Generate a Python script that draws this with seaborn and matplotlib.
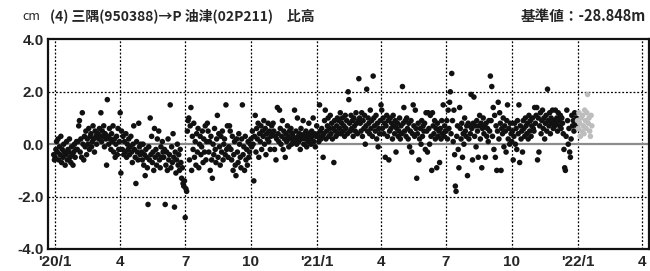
import matplotlib
matplotlib.use("Agg")
import matplotlib.pyplot as plt
import numpy as np
import pandas as pd
import seaborn as sns

# daily baseline height change (cm), one list per month
dec_2019 = [-0.4, -0.6]
jan_2020 = [-0.5, -0.2, 0.1, -0.3, 0.2, -0.6, -0.1, -0.4, 0.3, -0.7, -0.2, -0.5, 0.0, -0.3, -0.8, -0.4,
            0.1, -0.6, -0.2, -0.3, 0.2, -0.5, -0.7, -0.1, -0.4, -0.8, -0.3, 0.0, -0.5, -0.2, 0.1]
feb_2020 = [-0.2, 0.1, 0.7, 0.9, -0.3, 0.2, -0.5, 1.2, 0.0, -0.6, 0.3, -0.1, 0.5, -0.4, 0.2, 0.0,
            0.6, -0.2, 0.3, 0.4, -0.1, 0.1, 0.7, 0.2, -0.3, 0.5, 0.3, 0.0, 0.4]
mar_2020 = [0.4, 0.2, 0.6, 0.3, 1.2, 0.1, 0.5, 0.3, 0.7, -0.1, 0.4, 0.2, -0.8, 1.7, 0.3, 0.0,
            0.6, 0.2, -0.2, 0.4, 0.1, 0.7, -0.3, 0.2, -0.5, 0.0, 0.3, -0.4, 0.6, -0.2, 0.1]
apr_2020 = [1.2, -1.1, 0.5, -0.2, 0.3, -0.4, 0.1, -0.3, 0.4, -0.5, 0.0, -0.2, 0.2, -0.4, -0.1,
            0.3, -0.3, -0.7, 0.0, 0.7, -0.2, -0.5, -1.5, 0.1, -0.3, -0.6, 0.8, -0.1, -0.4, 0.0]
may_2020 = [-0.3, -0.6, 0.0, -0.8, -0.4, -1.2, -0.2, -0.5, -0.9, -2.3, -0.1, -0.6, 1.0, -0.4, 0.3,
            -0.7, -0.3, -1.0, 0.6, -0.5, -0.2, -0.8, 0.2, -0.4, 0.5, -0.6, -0.9, -0.1, -0.5, 0.1, -0.3]
jun_2020 = [-0.5, -0.2, -2.3, -0.8, -0.3, -1.0, 0.2, -0.6, -0.4, 1.5, -0.9, -0.1, -0.7, 0.4, -0.5,
            -2.4, -0.3, -1.1, -0.6, 0.0, -0.8, -0.4, -1.0, -0.2, -0.7, -1.3, -0.9, -1.5, -1.6, -1.4]
jul_2020 = [-2.8, -1.7, -1.8, 0.5, 0.9, 1.0, -0.6, 0.7, 1.4, -1.0, 0.3, -0.2, 0.8, -0.5, 0.1, -0.8,
            0.4, -0.3, 0.6, -0.9, 0.0, 0.3, -0.4, -0.1, 0.5, -0.7, 0.2, -0.3, 0.7, -0.6, 0.1]
aug_2020 = [0.8, 0.5, -0.3, 0.1, -1.0, 0.3, -0.6, -1.3, 0.0, -0.4, 0.6, -0.2, -0.7, 0.2, 1.1, -0.5,
            0.4, -0.1, -0.8, 0.3, -0.3, 0.5, -0.6, 0.0, 0.2, -0.4, 1.5, -0.2, 0.7, -0.5, -0.1]
sep_2020 = [0.7, 0.5, -0.2, -0.6, 0.3, -1.0, -0.4, 0.1, -0.8, -1.2, 0.2, -0.3, -0.7, 0.4, 0.0,
            -0.5, -0.9, 0.2, 1.5, -0.4, -0.1, -1.0, 0.3, -0.6, -0.2, -0.8, 0.1, -0.5, -0.3, 0.0]
oct_2020 = [0.2, -0.1, 0.5, 0.0, -1.4, 0.3, 1.1, -0.3, 0.6, 0.2, 0.8, -0.5, 0.4, 0.1, 0.7, -0.2,
            0.5, 0.3, 0.9, 0.0, 0.6, -0.4, 0.4, 0.2, 0.8, 0.1, 0.5, -0.2, 0.3, 0.7, 0.4]
nov_2020 = [0.8, 0.5, -0.2, 0.3, -0.6, 0.2, 1.4, 0.4, 0.1, 1.3, 0.6, 0.0, 0.3, 0.9, -0.2,
            0.5, 0.2, -0.5, 0.4, 0.1, 0.7, 0.3, -0.1, 0.5, 0.2, 0.6, 0.0, 0.4, 0.3, 0.1]
dec_2020 = [1.3, 0.2, 0.5, 0.0, 1.0, 0.3, 0.1, 0.4, -0.2, 0.6, 0.2, 0.3, 0.9, 0.0, 0.4, 0.2,
            0.5, -0.1, 0.3, 0.1, 0.8, 0.4, 0.2, 0.0, 0.5, 0.3, 1.0, 0.1, 0.4, -0.1, 0.3]
jan_2021 = [0.7, 0.3, 0.4, 0.1, 1.5, 0.5, 0.2, 0.6, 0.3, -0.5, 0.4, 0.9, 1.3, 0.2, 0.5, 0.7,
            1.0, 0.3, 0.6, 1.1, 0.4, 0.8, 0.2, 0.6, -0.7, 0.9, 0.5, 0.3, 0.7, 1.0, 0.4]
feb_2021 = [0.9, 0.6, 1.2, 0.4, 0.8, 1.0, 0.5, 0.7, 0.3, 1.1, 0.6, 0.9, 0.4, 2.0, 1.7, 0.8,
            0.5, 1.1, 0.6, 0.9, 0.3, 1.0, 0.7, 0.5, 1.2, 0.8, 0.4, 0.9]
mar_2021 = [2.5, 1.0, 0.8, 0.5, 1.2, 0.3, 0.9, 0.6, 1.1, 0.0, 0.7, 2.1, 0.5, 1.0, 0.8, 0.4,
            1.3, 0.6, 0.9, 0.3, 2.6, 1.0, 0.7, 0.5, 1.1, 0.2, 0.8, -0.1, 0.6, 0.4, 0.9]
apr_2021 = [1.5, 1.3, 0.6, 1.0, 0.4, 0.8, -0.5, 0.7, 1.1, 0.3, 0.9, -0.6, 0.5, 1.0, 0.6,
            0.8, 0.2, 1.1, 0.7, 0.4, 0.9, -0.3, 0.6, 0.8, 0.3, 0.5, 1.0, 0.2, 0.7, 0.4]
may_2021 = [2.2, 0.8, 1.4, 0.5, 0.9, 0.3, 1.0, 0.6, 0.2, 0.8, -0.1, 0.5, 0.9, -0.3, 0.4, 1.5,
            0.7, 0.3, 1.3, 0.6, -1.3, 0.4, 0.8, -0.6, 0.2, 0.6, 0.0, 0.9, 0.3, 0.7, 0.5]
jun_2021 = [0.8, -0.2, 1.2, 0.5, -0.3, 1.2, 0.6, 0.0, 1.1, 0.3, -1.0, 1.2, 0.7, 0.4, 0.9,
            0.2, 0.6, -0.9, 0.8, 0.3, 0.5, -0.7, 0.6, 0.2, 0.9, 0.4, 1.5, 0.3, 0.7, 0.5]
jul_2021 = [0.5, 0.9, 0.2, 1.3, 0.6, 1.6, 2.0, 0.4, 2.7, 0.9, 0.1, 1.3, -0.4, -1.6, -1.8, 0.3,
            0.7, -0.2, -0.9, 1.4, 0.6, 0.2, 0.8, -0.5, 0.4, 0.0, 1.0, 0.5, 0.3, 0.7, -1.2]
aug_2021 = [0.8, 0.2, 0.7, 0.4, 1.9, 0.6, -0.6, 0.8, 1.8, 0.3, 0.7, -0.1, 0.9, 0.5, -0.5, 0.7,
            1.1, 0.2, 0.8, -0.9, 0.6, 1.0, 0.4, 0.7, -0.5, 0.8, 0.3, 0.6, 0.1, 0.9, 0.5]
sep_2021 = [2.6, 0.9, 2.2, 0.3, 1.4, -0.2, 1.1, -0.5, 0.7, -1.0, 0.5, 1.6, 0.2, 1.2, 0.8,
            -1.0, 0.6, 0.4, 1.0, -0.1, 0.7, 0.5, -0.3, 0.9, 1.5, 0.2, 0.6, 0.0, 0.8, 0.4]
oct_2021 = [0.1, 0.5, -0.6, 0.3, 0.8, 0.0, 0.6, -0.2, 0.9, 0.4, 1.5, -0.7, 0.7, 0.2, 0.5, -0.3,
            0.9, 0.6, 0.3, 1.0, 0.7, 0.4, 0.8, 0.2, 1.1, 0.5, 0.9, 0.3, 0.7, 1.0, 0.6]
nov_2021 = [0.5, 1.4, 0.8, 1.1, 1.4, -0.6, 1.0, -0.3, 0.7, 1.2, 0.4, 0.9, 1.3, 0.6, 1.0,
            0.2, 0.8, 1.1, 0.5, 2.1, 0.9, 0.7, 1.2, 0.4, 1.0, 0.8, 1.3, 0.6, 0.9, 0.7]
dec_2021 = [1.3, 0.8, 1.0, 0.5, 1.2, 0.9, 0.7, 1.1, 0.6, 1.0, 0.8, 0.4, -0.2, -0.9, -1.0, 0.3,
            1.3, 0.9, 0.0, 0.6, -0.3, -0.5, 0.2, 1.1, 0.7, 0.9, 0.5, 1.2, 0.8, 1.0, 0.7]
# preliminary values (drawn in gray)
jan_2022 = [0.9, 0.6, 1.2, 0.8, 0.3, 1.0, 0.5, 1.1, 0.7, 0.4, 1.3, 0.9, 0.6, 1.2, 1.9, 0.8,
            1.0, 0.5, 0.3, 1.1, 0.7]

final_months = [("2019-12-30", dec_2019), ("2020-01-01", jan_2020), ("2020-02-01", feb_2020),
                ("2020-03-01", mar_2020), ("2020-04-01", apr_2020), ("2020-05-01", may_2020),
                ("2020-06-01", jun_2020), ("2020-07-01", jul_2020), ("2020-08-01", aug_2020),
                ("2020-09-01", sep_2020), ("2020-10-01", oct_2020), ("2020-11-01", nov_2020),
                ("2020-12-01", dec_2020), ("2021-01-01", jan_2021), ("2021-02-01", feb_2021),
                ("2021-03-01", mar_2021), ("2021-04-01", apr_2021), ("2021-05-01", may_2021),
                ("2021-06-01", jun_2021), ("2021-07-01", jul_2021), ("2021-08-01", aug_2021),
                ("2021-09-01", sep_2021), ("2021-10-01", oct_2021), ("2021-11-01", nov_2021),
                ("2021-12-01", dec_2021)]
prelim_months = [("2022-01-01", jan_2022)]

tick_dates = ["2020-01-01", "2020-04-01", "2020-07-01", "2020-10-01", "2021-01-01",
              "2021-04-01", "2021-07-01", "2021-10-01", "2022-01-01", "2022-04-01"]
tick_labels = ["'20/1", "4", "7", "10", "'21/1", "4", "7", "10", "'22/1", "4"]
y_ticks = [-4, -2, 0, 2, 4]


def month_frame(months, kind):
    parts = []
    for start, vals in months:
        parts.append(pd.DataFrame({"date": pd.date_range(start, periods=len(vals), freq="D"),
                                   "value": vals, "kind": kind}))
    return parts


df = pd.concat(month_frame(final_months, "final") + month_frame(prelim_months, "prelim"),
               ignore_index=True)

sns.set_style("white")
num_font = ["Liberation Sans Narrow", "Liberation Sans", "DejaVu Sans"]
jp_font = ["Noto Sans CJK JP", "DejaVu Sans"]
plt.rcParams["font.family"] = jp_font

fig = plt.figure(figsize=(6.5, 2.71), dpi=100)
ax = fig.add_axes([48 / 650, 1 - 249 / 271, 601 / 650, 209.6 / 271])

# grid first so the points sit on top
for d in tick_dates:
    ax.axvline(pd.Timestamp(d), color="black", lw=0.9, ls=(0, (1.5, 1.5)), zorder=1)
for yv in (-2, 2):
    ax.axhline(yv, color="black", lw=0.9, ls=(0, (1.5, 1.5)), zorder=1)
ax.axhline(0, color="#8c8c8c", lw=1.6, zorder=1)

sns.scatterplot(data=df, x="date", y="value", hue="kind",
                palette={"final": "#111111", "prelim": "#bdbdbd"},
                s=16, linewidth=0, legend=False, ax=ax, zorder=3)

ax.set_xlim(pd.Timestamp("2019-12-22"), pd.Timestamp("2022-04-11"))
ax.set_ylim(-4, 4)
ax.set_xticks([pd.Timestamp(d) for d in tick_dates])
ax.set_xticklabels(tick_labels)
ax.set_yticks(y_ticks)
ax.set_yticklabels([f"{v:.1f}" for v in y_ticks])
ax.tick_params(axis="y", length=0, pad=3)
ax.tick_params(axis="x", length=0, pad=4)
for lab in ax.get_xticklabels() + ax.get_yticklabels():
    lab.set_fontfamily(num_font)
    lab.set_fontweight("bold")
    lab.set_fontsize(11)
ax.set_xlabel("")
ax.set_ylabel("")
for sp in ax.spines.values():
    sp.set_visible(True)
    sp.set_color("#111111")
    sp.set_linewidth(1.6)

fig.text(22 / 650, 1 - 16 / 271, "cm", fontsize=9, va="center", ha="left")
fig.text(50 / 650, 1 - 16 / 271, "(4) 三隅(950388)→P 油津(02P211)　比高", fontsize=10,
         va="center", ha="left", fontweight="bold")
fig.text(646 / 650, 1 - 16 / 271, "基準値：-28.848m", fontsize=10.5, va="center", ha="right",
         fontweight="bold")

fig.savefig("out.png", dpi=100)
